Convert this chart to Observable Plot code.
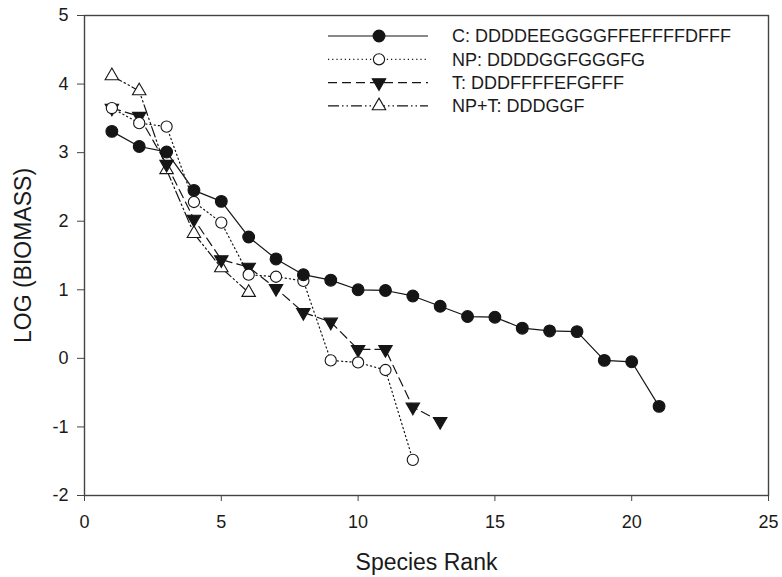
<!DOCTYPE html>
<html>
<head>
<meta charset="utf-8">
<script src="https://cdn.jsdelivr.net/npm/d3@7"></script>
<script src="https://cdn.jsdelivr.net/npm/@observablehq/plot@0.6"></script>
<style>
  html, body { margin: 0; padding: 0; background: #fff; }
  #chart { width: 782px; height: 577px; }
  svg { font-family: "Liberation Sans", Arial, sans-serif; }
</style>
</head>
<body>
<div id="chart"></div>
<script>
// ---- data ----
const seriesNames = ["C: DDDDEEGGGGFFEFFFFDFFF", "NP: DDDDGGFGGGFG", "T: DDDFFFFEFGFFF", "NP+T: DDDGGF"];
const cVals   = [3.31, 3.09, 3.01, 2.45, 2.29, 1.77, 1.45, 1.22, 1.14, 1.00, 0.99, 0.91, 0.76, 0.61, 0.60, 0.44, 0.40, 0.39, -0.03, -0.05, -0.70];
const npVals  = [3.65, 3.43, 3.38, 2.28, 1.98, 1.22, 1.19, 1.13, -0.03, -0.06, -0.17, -1.48];
const tVals   = [3.65, 3.53, 2.83, 2.03, 1.44, 1.33, 1.02, 0.67, 0.53, 0.13, 0.13, -0.71, -0.92];
const nptVals = [4.12, 3.90, 2.75, 1.82, 1.32, 0.96];
const xTicks = [0, 5, 10, 15, 20, 25];
const yTicks = [-2, -1, 0, 1, 2, 3, 4, 5];
const xTitle = "Species Rank";
const yTitle = "LOG (BIOMASS)";

const toRows = (vals) => vals.map((v, i) => ({rank: i + 1, value: v}));
const cData = toRows(cVals), npData = toRows(npVals), tData = toRows(tVals), nptData = toRows(nptVals);

// down-pointing triangle symbol (d3 triangle flipped vertically)
const triDown = {
  draw(context, size) {
    const k = Math.sqrt(size / (Math.sqrt(3) * 3));
    context.moveTo(0, 2 * k);
    context.lineTo(-Math.sqrt(3) * k, -k);
    context.lineTo(Math.sqrt(3) * k, -k);
    context.closePath();
  }
};

const ink = "#151515";
const axisInk = "#444";
const textInk = "#1a1a1a";
const styles = [
  {data: cData,   dash: null,               symbol: "circle",   fill: ink,     r: 5.9},
  {data: npData,  dash: "1.2,3",            symbol: "circle",   fill: "white", r: 5.6},
  {data: tData,   dash: "9,5",              symbol: triDown,    fill: ink,     r: 5.0},
  {data: nptData, dash: "11,3,1.5,3,1.5,3", symbol: "triangle", fill: "white", r: 5.0}
];

const marks = [];
for (const s of styles.slice().reverse()) {
  marks.push(Plot.line(s.data, {x: "rank", y: "value", stroke: ink, strokeWidth: 1.2, strokeDasharray: s.dash}));
}
for (const s of styles.slice().reverse()) {
  marks.push(Plot.dot(s.data, {x: "rank", y: "value", symbol: s.symbol, r: s.r, fill: s.fill, stroke: ink, strokeWidth: 1.1}));
}

const chart = Plot.plot({
  width: 782,
  height: 577,
  marginLeft: 84,
  marginRight: 14,
  marginTop: 15,
  marginBottom: 82,
  style: {fontFamily: '"Liberation Sans", Arial, sans-serif', background: "white"},
  x: {domain: [0, 25], ticks: xTicks, label: null},
  y: {domain: [-2, 5], ticks: yTicks, label: null},
  marks: [
    Plot.frame({stroke: axisInk, strokeWidth: 1.4}),
    Plot.axisX({ticks: xTicks, tickSize: 6, tickPadding: 14, fontSize: 18, stroke: axisInk, color: textInk, tickFormat: d => String(d), label: null}),
    Plot.axisY({ticks: yTicks, tickSize: 7, tickPadding: 9, fontSize: 18, stroke: axisInk, color: textInk, tickFormat: d => String(d), label: null}),
    Plot.text([xTitle], {frameAnchor: "bottom", lineAnchor: "middle", dy: 67, fontSize: 23, fill: textInk}),
    Plot.text([yTitle], {frameAnchor: "left", lineAnchor: "middle", textAnchor: "middle", dx: -61, rotate: -90, fontSize: 23, fill: textInk}),
    ...marks
  ]
});

// ---- legend (drawn inside the plot's svg) ----
const svg = d3.select(chart);
const leg = svg.append("g").attr("transform", "translate(328,36)");
styles.forEach((s, i) => {
  const g = leg.append("g").attr("transform", `translate(0,${i * 23.3})`);
  g.append("line").attr("x1", 0).attr("x2", 100).attr("y1", 0).attr("y2", 0)
    .attr("stroke", ink).attr("stroke-width", 1.2)
    .attr("stroke-dasharray", s.dash);
  const sym = typeof s.symbol === "string" ? (s.symbol === "circle" ? d3.symbolCircle : d3.symbolTriangle) : s.symbol;
  g.append("path").attr("transform", "translate(51,0)")
    .attr("d", d3.symbol(sym, Math.PI * s.r * s.r)())
    .attr("fill", s.fill).attr("stroke", ink).attr("stroke-width", 1.1);
  g.append("text").attr("x", 124).attr("y", 0).attr("dy", "0.36em")
    .attr("text-anchor", "start")
    .attr("font-size", 18).attr("fill", textInk).text(seriesNames[i]);
});

document.getElementById("chart").appendChild(chart);
</script>
</body>
</html>
